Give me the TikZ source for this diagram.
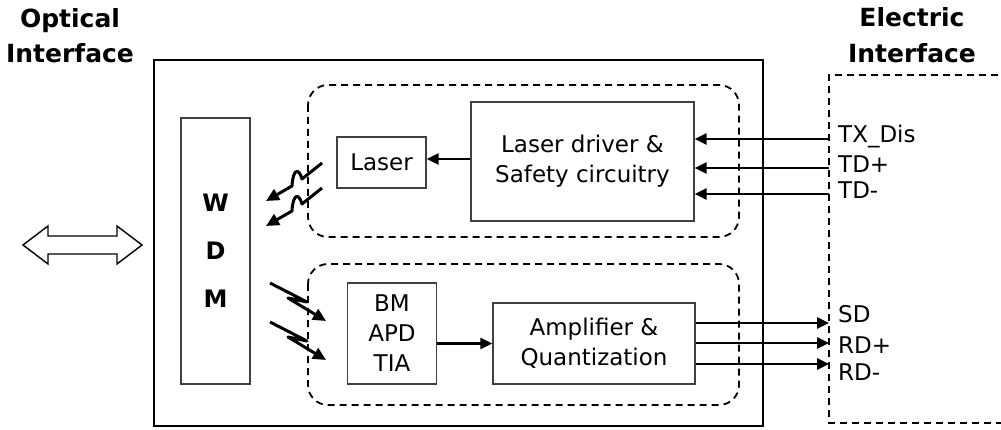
\documentclass[tikz,border=0pt]{standalone}
\usepackage{fontspec}
\setmainfont{DejaVu Sans}
\usetikzlibrary{arrows.meta}
\begin{document}
\begin{tikzpicture}[x=1pt,y=-1pt,
  box/.style={draw=black!75, line width=1.3pt, inner sep=0pt, align=center, font=\fontsize{23}{30}\selectfont},
  arr/.style={line width=2.8pt, -{Triangle[length=12pt,width=11pt]}},
  bolt/.style={line width=3pt, line join=round, -{Triangle[length=13pt,width=12pt]}},
  grp/.style={draw, line width=1.8pt, dash pattern=on 7pt off 5pt, rounded corners=20pt},
  ifc/.style={line width=1.8pt, dash pattern=on 7pt off 5pt},
  lbl/.style={font=\fontsize{25}{35}\selectfont\bfseries, inner sep=0pt, anchor=base},
  sig/.style={font=\fontsize{23}{26}\selectfont, inner sep=0pt, anchor=base west}]
\useasboundingbox (0,0) rectangle (1001,430);

% outer module box
\draw[line width=2.4pt] (154,60) rectangle (763,426);

% dashed groups
\draw[grp] (308,85) rectangle (739,237);
\draw[grp] (308,264) rectangle (739,405);

% electric interface
\draw[ifc] (1010,75) -- (829,75) -- (829,423) -- (1010,423);

% blocks
\node[box, minimum width=69pt, minimum height=266pt, font=\fontsize{24}{48}\selectfont\bfseries] (wdm) at (215.5,251) {W\\D\\M};
\node[box, minimum width=89pt, minimum height=51pt] (laser) at (381.5,162.5) {Laser};
\node[box, minimum width=223pt, minimum height=119pt] (drv) at (582.5,161.5) {Laser driver \&\\Safety circuitry};
\node[box, minimum width=89pt, minimum height=101pt] (bm) at (392,333.5) {BM\\APD\\TIA};
\node[box, minimum width=202pt, minimum height=81pt] (amp) at (594,343.5) {Amplifier \&\\Quantization};

% internal arrows
\draw[arr] (drv.west |- 0,159) -- (laser.east |- 0,159);
\draw[arr] (bm.east |- amp.west) -- (amp.west);

% interface coordinates
\coordinate (ei1) at (829,139);
\coordinate (ei2) at (829,168);
\coordinate (ei3) at (829,194);
\coordinate (eo1) at (829,323);
\coordinate (eo2) at (829,343);
\coordinate (eo3) at (829,364);

\draw[arr] (ei1) -- (drv.east |- ei1);
\draw[arr] (ei2) -- (drv.east |- ei2);
\draw[arr] (ei3) -- (drv.east |- ei3);
\draw[arr] (amp.east |- eo1) -- (eo1);
\draw[arr] (amp.east |- eo2) -- (eo2);
\draw[arr] (amp.east |- eo3) -- (eo3);

% signal labels
\node[sig] (ltx) at (838,143) {TX\_Dis};
\node[sig] (ltp) at (838,173) {TD+};
\node[sig] (ltm) at (838,199) {TD-};
\node[sig] (lsd) at (838,323) {SD};
\node[sig] (lrp) at (838,353) {RD+};
\node[sig] (lrm) at (838,380) {RD-};

% light bolts
\draw[bolt] (322,163) -- (302,179) .. controls (299,168) and (293,168) .. (292,186) -- (266,201);
\draw[bolt] (322,188) -- (302,204) .. controls (299,193) and (293,193) .. (292,211) -- (266,226);
\draw[bolt] (270,283) -- (307,302) -- (288,298) -- (326,321);
\draw[bolt] (270,322) -- (307,341) -- (288,337) -- (326,360);

% optical double arrow
\draw[line width=1.4pt, line join=miter] (23,245) -- (48,226) -- (48,236) -- (117,236) -- (117,226) -- (142,245) -- (117,264) -- (117,254) -- (48,254) -- (48,264) -- cycle;

% titles
\node[lbl] (opt1) at (70,28) {Optical};
\node[lbl] (opt2) at (70,63) {Interface};
\node[lbl] (el1) at (912,27) {Electric};
\node[lbl] (el2) at (912,63) {Interface};
\end{tikzpicture}
\end{document}
